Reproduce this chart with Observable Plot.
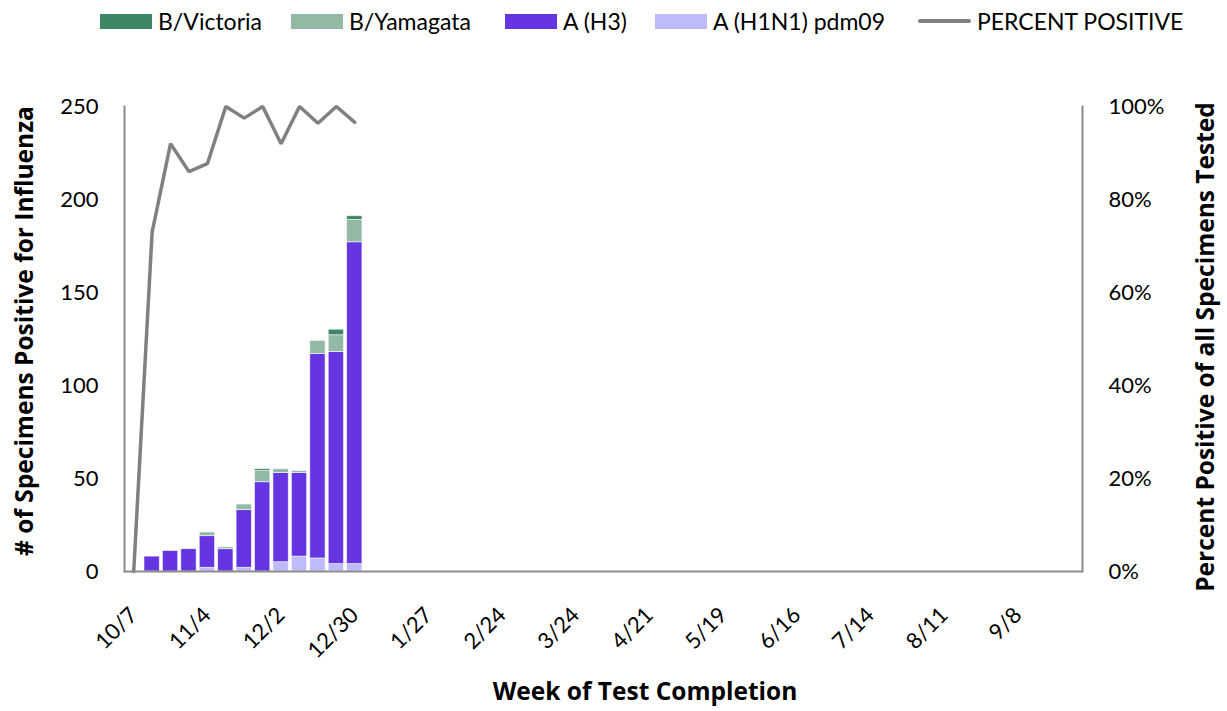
<!DOCTYPE html>
<html>
<head>
<meta charset="utf-8">
<script src="https://cdn.jsdelivr.net/npm/d3@7"></script>
<script src="https://cdn.jsdelivr.net/npm/@observablehq/plot@0.6"></script>
<style>
  body { margin: 0; background: #fff; font-family: Lato, "Open Sans", sans-serif; }
  #legend { position: relative; height: 42px; width: 1227px; font-size: 23px; color: #000; }
  .item { position: absolute; top: 7px; display: flex; align-items: center; white-space: nowrap; }
  .sw { width: 52px; height: 15px; margin-right: 6px; }
  .ln { width: 53px; height: 4px; margin-right: 6px; border-radius: 2px; }
</style>
</head>
<body>
<div id="legend"></div>
<div id="chart"></div>
<script>
// Week labels (category axis)
const weeks = ["10/7","10/14","10/21","10/28","11/4","11/11","11/18","11/25","12/2","12/9","12/16","12/23","12/30",
  "1/6","1/13","1/20","1/27","2/3","2/10","2/17","2/24","3/3","3/10","3/17","3/24","3/31","4/7","4/14","4/21",
  "4/28","5/5","5/12","5/19","5/26","6/2","6/9","6/16","6/23","6/30","7/7","7/14","7/21","7/28","8/4","8/11",
  "8/18","8/25","9/1","9/8","9/15","9/22","9/29"];
// Weeks with data (first 13 weeks)
const h1n1 = [0,0,0,0,2,0,2,0,5,8,7,4,4];
const h3   = [0,8,11,12,17,12,31,48,48,45,110,114,173];
const yam  = [0,0,0,0,2,1,3,6,2,1,7,9,12];
const vic  = [0,0,0,0,0,0,0,1,0,0,0,3,2];
const pctPositive = [0,73,92,86,87.7,100,97.5,100,92,100,96.4,100,96.6];

const seriesNames = ["A (H1N1) pdm09","A (H3)","B/Yamagata","B/Victoria"];
const seriesValues = [h1n1, h3, yam, vic];
const colors = {"B/Victoria":"#3e8764","B/Yamagata":"#91b9a4","A (H3)":"#6535e2","A (H1N1) pdm09":"#bdbbfb"};
const lineColor = "#808080";
const yMax = 250;

const barData = [];
seriesNames.forEach((s, si) => {
  seriesValues[si].forEach((v, i) => barData.push({week: weeks[i], series: s, value: v}));
});
const lineData = pctPositive.map((p, i) => ({week: weeks[i], y: p / 100 * yMax}));

// Legend
const legendItems = [
  {name: "B/Victoria", left: 100, type: "sw"},
  {name: "B/Yamagata", left: 291, type: "sw"},
  {name: "A (H3)", left: 505, type: "sw"},
  {name: "A (H1N1) pdm09", left: 655, type: "sw"},
  {name: "PERCENT POSITIVE", left: 918, type: "ln"}
];
const legend = d3.select("#legend");
legendItems.forEach(it => {
  const d = legend.append("div").attr("class", "item").style("left", it.left + "px");
  d.append("div").attr("class", it.type).style("background", it.type === "sw" ? colors[it.name] : lineColor);
  d.append("span").text(it.name);
});

const axisColor = "#8c8c8c";
const plot = Plot.plot({
  width: 1227,
  height: 669,
  marginTop: 64,
  marginBottom: 140,
  marginLeft: 124,
  marginRight: 145,
  style: {fontFamily: "Lato, 'Open Sans', sans-serif", fontSize: "22px", color: "#000", background: "#fff"},
  x: {type: "band", domain: weeks, paddingInner: 0.17, paddingOuter: 0.085, round: false, label: null},
  y: {domain: [0, yMax], label: null},
  color: {domain: Object.keys(colors), range: Object.values(colors)},
  marks: [
    Plot.barY(barData, {x: "week", y: "value", fill: "series", order: seriesNames, stroke: "white", strokeWidth: 0.8, strokeOpacity: 0.7}),
    Plot.line(lineData, {x: "week", y: "y", stroke: lineColor, strokeWidth: 3.5, strokeLinejoin: "miter"}),
    Plot.ruleY([0], {stroke: axisColor, strokeWidth: 2}),
    Plot.frame({anchor: "left", stroke: axisColor, strokeWidth: 2}),
    Plot.frame({anchor: "right", stroke: axisColor, strokeWidth: 2}),
    Plot.axisY({anchor: "left", ticks: [0,50,100,150,200,250], tickSize: 0, tickPadding: 26, label: null}),
    Plot.axisY({anchor: "right", ticks: [0,50,100,150,200,250], tickSize: 0, tickPadding: 26, label: null,
      tickFormat: d => Math.round(d / yMax * 100) + "%", textAnchor: "start"}),
    Plot.axisX({ticks: weeks.filter((d, i) => i % 4 === 0), tickSize: 0, tickPadding: 40, tickRotate: -45, label: null})
  ]
});
document.getElementById("chart").appendChild(plot);

const svg = d3.select(plot);
const titleStyle = (t) => t.attr("font-family", "'Open Sans', Lato, sans-serif").attr("font-weight", "bold")
  .attr("font-size", 24.5).attr("fill", "#000").attr("text-anchor", "middle");
svg.append("text").call(titleStyle).attr("transform", "translate(33,289) rotate(-90)")
  .text("# of Specimens Positive for Influenza");
svg.append("text").call(titleStyle).attr("transform", "translate(1214,305) rotate(-90)")
  .text("Percent Positive of all Specimens Tested");
svg.append("text").call(titleStyle).attr("x", 645).attr("y", 658)
  .text("Week of Test Completion");
</script>
</body>
</html>
